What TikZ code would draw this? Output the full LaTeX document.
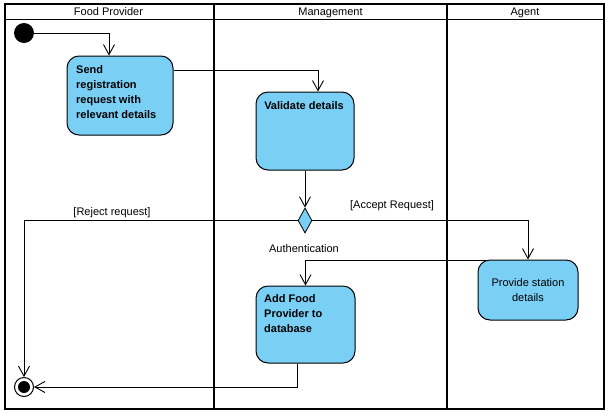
\documentclass[tikz,border=0pt]{standalone}
\usepackage{fontspec}
\setmainfont{Liberation Sans}
\usetikzlibrary{arrows.meta,calc,shapes.geometric}
\definecolor{actfill}{RGB}{122,207,245}
\begin{document}
\begin{tikzpicture}[x=1pt,y=-1pt,
  txt/.style={font=\fontsize{11}{15}\selectfont,inner sep=0pt},
  boldtxt/.style={font=\fontsize{11}{15}\selectfont\bfseries,inner sep=0pt},
  lane/.style={line width=1.8pt},
  action/.style={draw,line width=1pt,fill=actfill,rounded corners=12pt,inner sep=0pt},
  flow/.style={draw,line width=0.9pt,-{Straight Barb[length=10pt,width=11pt,line width=0.9pt]}},
]
\useasboundingbox (0,0) rectangle (610,416);
\fill[white] (0,0) rectangle (610,416);

% swimlanes
\draw[lane] (5,4) rectangle (604,409);
\draw[lane] (5,19.5) -- (604,19.5);
\draw[lane] (214,4) -- (214,409);
\draw[lane] (447,4) -- (447,409);
\node[txt,anchor=base] (hFood) at (108.5,15.7) {Food Provider};
\node[txt,anchor=base] (hMgmt) at (330.5,15.7) {Management};
\node[txt,anchor=base] (hAgent) at (525,15.7) {Agent};

% start and end
\node[circle,fill=black,minimum size=20pt,inner sep=0pt] (start) at (24,33) {};
\node[circle,draw,line width=1pt,minimum size=19pt,inner sep=0pt] (end) at (24,387) {};
\node[circle,fill=black,minimum size=12pt,inner sep=0pt] (endDot) at (end) {};

% actions
\node[action,minimum width=106pt,minimum height=79pt] (send) at (120,95.5) {};
\node[boldtxt,anchor=north west,align=left] (sendText) at (76,65) {Send\\registration\\request with\\relevant details};

\node[action,minimum width=98pt,minimum height=78pt] (validate) at (305,131) {};
\node[boldtxt,anchor=north] (validateText) at (304,101) {Validate details};

\node[action,minimum width=99pt,minimum height=77pt] (addfp) at (305.5,324.5) {};
\node[boldtxt,anchor=north west,align=left] (addfpText) at (264,294) {Add Food\\Provider to\\database};

\node[action,minimum width=100pt,minimum height=60pt] (station) at (528,290) {};
\node[txt,anchor=north,align=center] (stationText) at (528,278) {Provide station\\details};

% decision
\node[diamond,draw,fill=actfill,line width=0.8pt,aspect=0.56,minimum width=14pt,minimum height=25pt,inner sep=0pt] (auth) at (305,220.5) {};
\node[txt,anchor=base] (authLabel) at (304,252.3) {Authentication};

% flows
\draw[flow] (start.east) -| ([xshift=-11pt]send.north);
\draw[flow] ($(send.north east)+(0,15)$) -| ($(validate.north)+(13,0)$);
\draw[flow] (validate.south) -- (auth.north);
\draw[flow] (auth.west) -| (end.north);
\draw[flow] (auth.east) -| (station.north);
\draw[flow] ($(station.north west)+(9,1)$) -| (addfp.north);
\draw[flow] ([xshift=-8pt]addfp.south) |- (end.east);

% guards
\node[txt,anchor=base] (rejectLabel) at (112,215.5) {[Reject request]};
\node[txt,anchor=base] (acceptLabel) at (392,208.3) {[Accept Request]};
\end{tikzpicture}
\end{document}
